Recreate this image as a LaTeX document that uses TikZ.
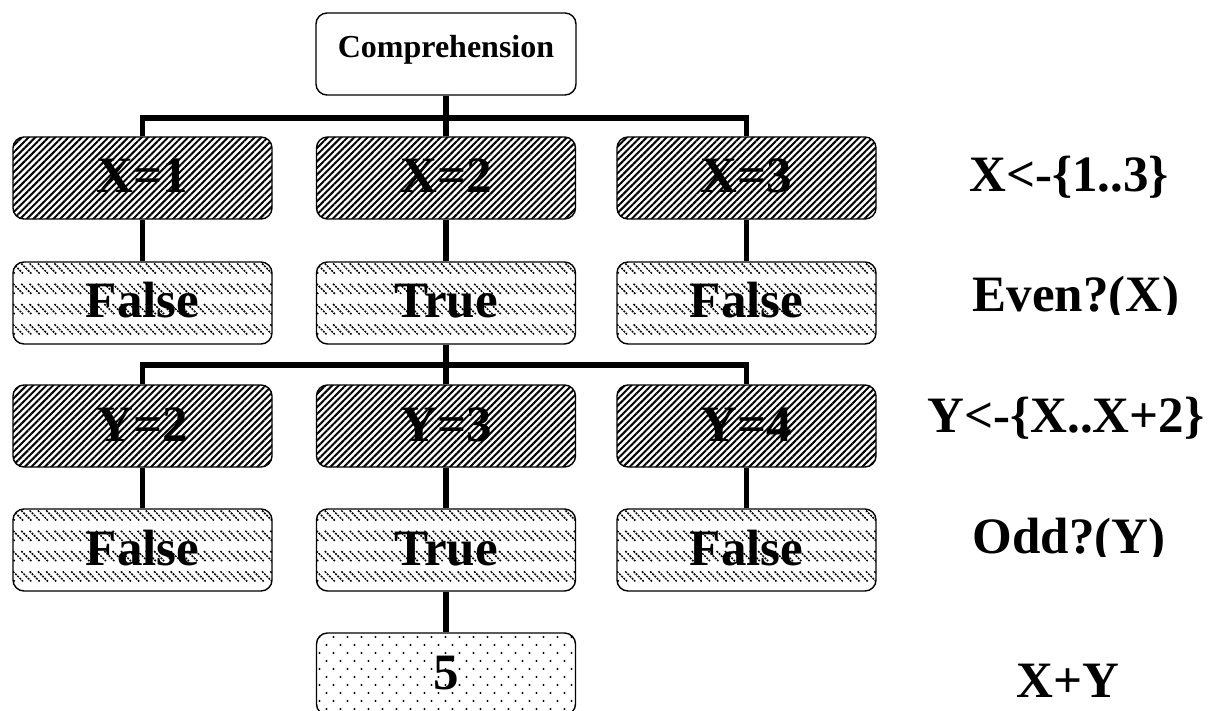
\documentclass[tikz,border=0pt]{standalone}
\usepackage{fontspec}
\setmainfont{Liberation Serif}
\usetikzlibrary{patterns.meta}

\tikzset{
  box/.style={draw=black, line width=1.4pt, rounded corners=11pt,
    minimum width=259pt, minimum height=82pt, inner sep=0pt,
    text height=30pt, text depth=0pt,
    font=\fontsize{51}{56}\selectfont\bfseries},
  % generator boxes: dense north-east hatching
  genbox/.style={box, preaction={fill=white},
    pattern={Lines[angle=45,distance=4.7pt,line width=2pt]}},
  % test boxes: horizontal bands of short north-west strokes
  testbox/.style={box, fill=white, path picture={
      \foreach \row in {0,...,3}{
        \foreach \col in {-2,...,32}{
          \draw[black, line width=1.5pt, dash pattern=on 2pt off 1.1pt]
            ([shift={(\col*8.3pt,-\row*20.3pt-1.5pt)}]path picture bounding box.north west)
            -- ++(10pt,-10pt);
        }
      }
    }},
  % result box: staggered dots
  resbox/.style={box, fill=white, path picture={
      \foreach \row [evaluate=\row as \rowoff using {mod(\row,2)*7+3}] in {0,...,11}{
        \foreach \col in {0,...,18}{
          \fill[black] ([shift={(\col*14pt+\rowoff pt,-\row*8pt-4pt)}]path picture bounding box.north west)
            circle (1.1pt);
        }
      }
    }},
  rootbox/.style={box, fill=white, text height=, text depth=,
    font=\fontsize{32}{36}\selectfont\bfseries},
  link/.style={line width=5.5pt},
  side/.style={anchor=base, inner sep=0pt, font=\fontsize{51}{56}\selectfont\bfseries},
}

\begin{document}
\begin{tikzpicture}[x=1pt,y=1pt]
\clip (0,0) rectangle (1221,-711);

% root
\node[rootbox, minimum width=260pt] (root) at (446,-54) {\raisebox{15.5pt}{Comprehension}};

% generator X
\node[genbox] (x1) at (142.5,-178) {X=1};
\node[genbox] (x2) at (446,-178)   {X=2};
\node[genbox] (x3) at (746.5,-178) {X=3};

% test Even?(X)
\node[testbox] (e1) at (142.5,-303) {False};
\node[testbox] (e2) at (446,-303)   {True};
\node[testbox] (e3) at (746.5,-303) {False};

% generator Y
\node[genbox] (y1) at (142.5,-426) {Y=2};
\node[genbox] (y2) at (446,-426)   {Y=3};
\node[genbox] (y3) at (746.5,-426) {Y=4};

% test Odd?(Y)
\node[testbox] (o1) at (142.5,-550) {False};
\node[testbox] (o2) at (446,-550)   {True};
\node[testbox] (o3) at (746.5,-550) {False};

% result
\node[resbox] (res) at (446,-674) {5};

% connectors
\coordinate (b1) at (446,-118);
\coordinate (b2) at (446,-365);
\draw[link] (root.south) -- (b1) -- (x2.north);
\draw[link] (x1.north) |- (b1) -| (x3.north);
\draw[link] (x1.south) -- (e1.north);
\draw[link] (x2.south) -- (e2.north);
\draw[link] (x3.south) -- (e3.north);
\draw[link] (e2.south) -- (b2) -- (y2.north);
\draw[link] (y1.north) |- (b2) -| (y3.north);
\draw[link] (y1.south) -- (o1.north);
\draw[link] (y2.south) -- (o2.north);
\draw[link] (y3.south) -- (o3.north);
\draw[link] (o2.south) -- (res.north);

% side labels
\node[side] (lx) at (1069,-192) {X<-\{1..3\}};
\begin{scope}
  \clip (900,-250) rectangle (1221,-315);
  \node[side] (le) at (1076,-312) {Even?(X)};
\end{scope}
\node[side] (ly) at (1066,-432) {Y<-\{X..X+2\}};
\begin{scope}
  \clip (900,-490) rectangle (1221,-556);
  \node[side] (lo) at (1069,-553) {Odd?(Y)};
\end{scope}
\node[side] (ls) at (1068,-697) {X+Y};
\end{tikzpicture}
\end{document}
